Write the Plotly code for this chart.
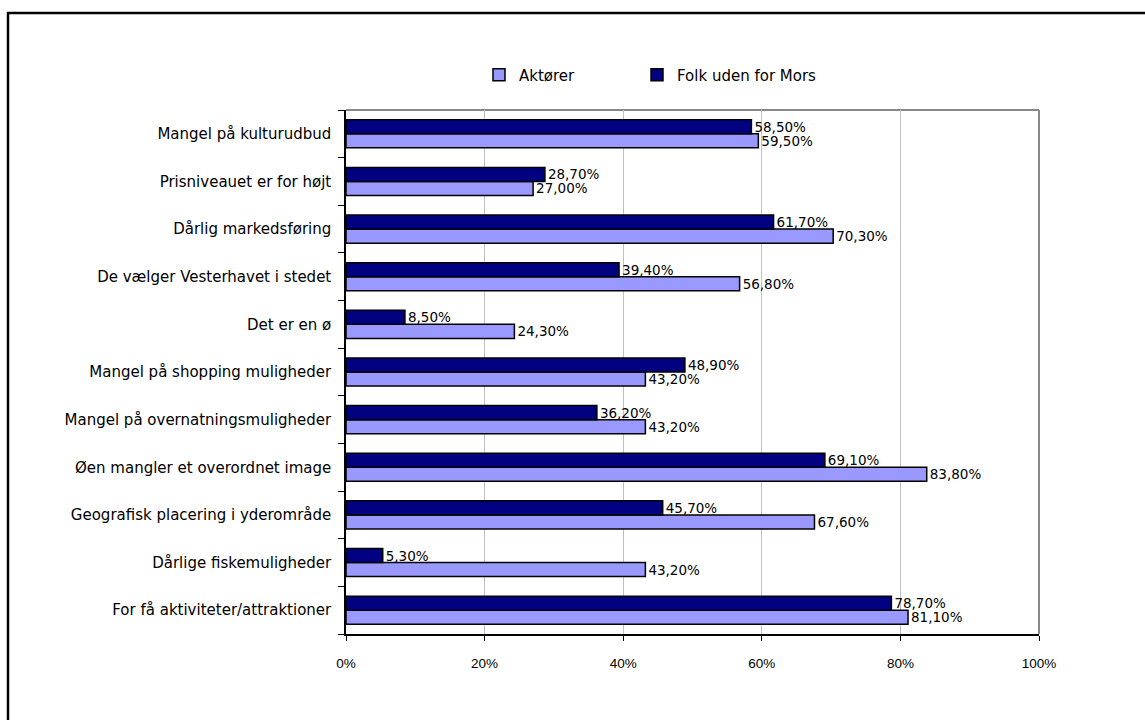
import plotly.graph_objects as go

categories = [
    "Mangel på kulturudbud",
    "Prisniveauet er for højt",
    "Dårlig markedsføring",
    "De vælger Vesterhavet i stedet",
    "Det er en ø",
    "Mangel på shopping muligheder",
    "Mangel på overnatningsmuligheder",
    "Øen mangler et overordnet image",
    "Geografisk placering i yderområde",
    "Dårlige fiskemuligheder",
    "For få aktiviteter/attraktioner",
]
aktoerer = [59.5, 27.0, 70.3, 56.8, 24.3, 43.2, 43.2, 83.8, 67.6, 43.2, 81.1]
folk = [58.5, 28.7, 61.7, 39.4, 8.5, 48.9, 36.2, 69.1, 45.7, 5.3, 78.7]
x_ticks = [0, 20, 40, 60, 80, 100]
x_tick_labels = ["0%", "20%", "40%", "60%", "80%", "100%"]

W, H = 1145, 720
ML, MR, MT, MB = 346, 106, 110, 86
PW, PH = W - ML - MR, H - MT - MB

def px_x(p):
    return (p - ML) / PW

def px_y(p):
    return (H - MB - p) / PH

cat_font = dict(family="DejaVu Sans", size=15, color="black")
val_font = dict(family="DejaVu Sans", size=13.5, color="black")
leg_font = dict(family="DejaVu Sans", size=15, color="black")

fig = go.Figure()
fig.add_trace(go.Bar(
    name="Aktører", y=categories, x=aktoerer, orientation="h",
    marker=dict(color="#9999FF", line=dict(color="black", width=1.5)),
    texttemplate="%{x:.2f}%", textposition="outside", cliponaxis=False,
    constraintext="none", textfont=val_font, legend="legend",
))
fig.add_trace(go.Bar(
    name="Folk uden for Mors", y=categories, x=folk, orientation="h",
    marker=dict(color="#000080", line=dict(color="black", width=1.5)),
    texttemplate="%{x:.2f}%", textposition="outside", cliponaxis=False,
    constraintext="none", textfont=val_font, legend="legend2",
))

fig.update_layout(
    width=W, height=H,
    margin=dict(l=ML, r=MR, t=MT, b=MB),
    paper_bgcolor="white", plot_bgcolor="white",
    separators=",.",
    barmode="group", bargap=0.41, bargroupgap=0,
    font=dict(family="DejaVu Sans", size=12, color="black"),
    showlegend=True,
    legend=dict(
        orientation="h", x=px_x(479), xanchor="left", y=px_y(75), yanchor="middle",
        font=leg_font, bgcolor="rgba(0,0,0,0)",
    ),
    legend2=dict(
        orientation="h", x=px_x(637), xanchor="left", y=px_y(75), yanchor="middle",
        font=leg_font, bgcolor="rgba(0,0,0,0)",
    ),
    xaxis=dict(
        range=[0, 100], tickvals=x_ticks, ticktext=x_tick_labels,
        showgrid=True, gridcolor="#C0C0C0", gridwidth=1,
        showline=True, linecolor="black", linewidth=1.5,
        ticks="outside", ticklen=5, tickcolor="black",
        tickfont=dict(family="Liberation Sans", size=13.5, color="black"),
        ticklabelstandoff=11, zeroline=False, fixedrange=True,
    ),
    yaxis=dict(
        categoryorder="array", categoryarray=categories[::-1],
        showline=True, linecolor="black", linewidth=1.5,
        ticks="outside", ticklen=6, tickcolor="black", tickson="boundaries",
        tickfont=cat_font, ticklabelstandoff=10, showgrid=False,
    ),
    shapes=[
        dict(type="line", xref="paper", yref="paper", x0=0, x1=1, y0=1, y1=1,
             line=dict(color="#888888", width=2), layer="below"),
        dict(type="line", xref="paper", yref="paper", x0=1, x1=1, y0=0, y1=1,
             line=dict(color="#888888", width=2), layer="below"),
        dict(type="rect", xref="paper", yref="paper",
             x0=px_x(8), x1=px_x(1160), y0=px_y(13), y1=px_y(740),
             line=dict(color="black", width=2.5), fillcolor="rgba(0,0,0,0)"),
    ],
)

fig.write_html("out.html")
